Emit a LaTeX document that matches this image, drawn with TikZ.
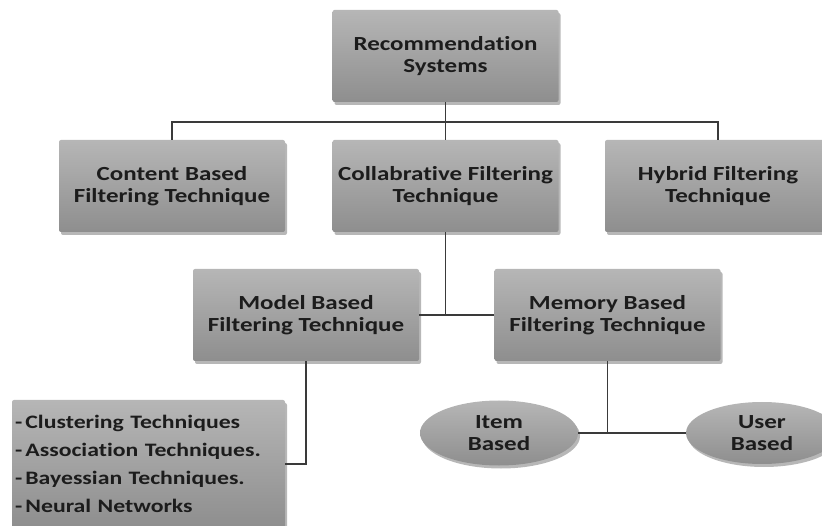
\documentclass[tikz,border=0pt]{standalone}
\usepackage{fontspec}
\setmainfont{Carlito}[FakeStretch=1.25, Ligatures=NoCommon]
\usepackage{tikz}
\usetikzlibrary{positioning,
	shapes.geometric,
	shadows}

\definecolor{boxtop}{HTML}{B6B6B6}
\definecolor{boxbottom}{HTML}{8E8E8E}
\definecolor{linecol}{HTML}{3A3A3A}
\definecolor{textcol}{HTML}{1C1C1C}

\tikzset{
	techbox/.style={rectangle, rounded corners=2pt, inner sep=0pt,
		minimum width=226pt, minimum height=92pt,
		top color=boxtop, bottom color=boxbottom,
		drop shadow={shadow xshift=2pt, shadow yshift=-3pt, opacity=0.4, fill=black!70},
		align=center, text=textcol, font=\fontsize{20}{22}\selectfont\bfseries},
	listbox/.style={techbox, align=left, inner xsep=3pt, text width=267pt,
		minimum height=128pt, font=\fontsize{19}{28}\selectfont\bfseries},
	basedoval/.style={techbox, ellipse, rounded corners=0pt, minimum width=158pt, minimum height=65pt},
	link/.style={draw=linecol, line width=1.2pt}
}

\begin{document}
\begin{tikzpicture}[x=1pt, y=-1pt]

        \useasboundingbox (0,0) rectangle (822,526);

        \node[techbox] (rec) at(445.5,56) {Recommendation\\Systems};

        \node[techbox] (content) at(172,186) {Content Based\\Filtering Technique};
        \node[techbox] (collab) at(445.5,186) {Collabrative Filtering\\Technique};
        \node[techbox] (hybrid) at(718,186) {Hybrid Filtering\\Technique};

        \node[techbox] (model) at(306,315) {Model Based\\Filtering Technique};
        \node[techbox] (memory) at(607.5,315) {Memory Based\\Filtering Technique};

        \node[listbox] (list) at(148.5,464) {-\,Clustering Techniques\\-\,Association Techniques.\\-\,Bayessian Techniques.\\-\,Neural Networks};

        \node[basedoval] (item) at(499,433) {Item\\Based};
        \node[basedoval, minimum width=152pt, minimum height=62pt] (user) at(762,433) {User\\Based};

        \coordinate (split1) at(445.5,122);
        \coordinate (split2) at(445.5,315);
        \coordinate (split3) at(607.5,433);

        \draw[link] (rec.south)--(collab.north);
        \draw[link] (content.north) |- (split1) -| (hybrid.north);
        \draw[link] (collab.south)--(split2);
        \draw[link] (model.east)--(memory.west);
        \draw[link] (model.south) |- (list.east);
        \draw[link] (memory.south)--(split3);
        \draw[link] (item.east)--(user.west);

\end{tikzpicture}
\end{document}
